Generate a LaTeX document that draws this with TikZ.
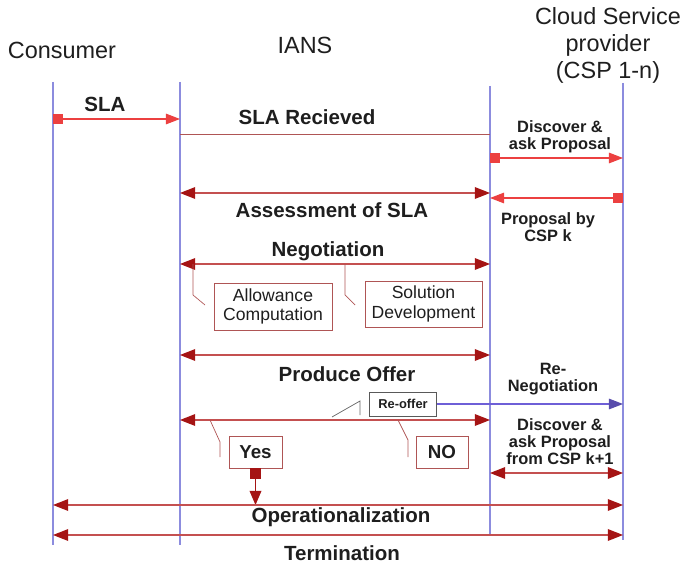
\documentclass[tikz,border=0pt]{standalone}
\usepackage{fontspec}
\setmainfont{Liberation Sans}
\usetikzlibrary{arrows.meta,positioning,calc}
\definecolor{lifeblue}{RGB}{140,140,222}
\definecolor{msgred}{RGB}{236,64,64}
\definecolor{tipred}{RGB}{165,20,20}
\definecolor{phasered}{RGB}{196,80,80}
\definecolor{boxred}{RGB}{175,85,85}
\definecolor{renegblue}{RGB}{110,95,215}
\definecolor{txt}{RGB}{30,30,30}

\begin{document}
\begin{tikzpicture}
[x=0.03cm,y=-0.03cm,
%
lifeline/.style={draw=lifeblue,line width=1pt},
head/.style={font=\fontsize{20}{23}\selectfont,align=center,inner sep=0pt,text=txt},
lbl/.style={font=\fontsize{17.5}{20}\selectfont\bfseries,inner sep=0pt,text=txt},
small/.style={font=\fontsize{14}{14.5}\selectfont\bfseries,align=center,inner sep=0pt,text=txt},
part/.style={shape=rectangle,draw=boxred,semithick,align=center,inner sep=0pt,
   font=\fontsize{15}{16.5}\selectfont,text=txt},
%
redmsg/.style={draw=msgred,line width=1pt,
   {Square[length=8.5pt,width=9pt,color=msgred]}-{Triangle[length=12pt,width=9pt,color=msgred]}},
phase/.style={draw=phasered,line width=1pt,
   {Triangle[length=13pt,width=10pt,color=tipred]}-{Triangle[length=13pt,width=10pt,color=tipred]}},
callout/.style={draw=boxred,semithick}]
%
\useasboundingbox (0,0) rectangle (681,566);
%
% actors
\node (consumer) [head] at (62,50) {Consumer};
\node (ians) [head] at (305,45) {IANS};
\node (cspname) [head] at (608,45) {Cloud Service\\provider\\(CSP 1-n)};
%%
% lifelines
\foreach \n/\x/\t/\b in {cons/53/82/545, iansL/180/82/545, iansR/490/86/535, csp/623/83/540}{
   \coordinate (\n-top) at (\x,\t);
   \coordinate (\n-bot) at (\x,\b);
   \draw[lifeline] (\n-top) -- (\n-bot);
}
%%
% message levels
\foreach \n/\y in {sla/119, rec/134, disc/158, prop/198, ass/193, neg/264,
   off/355, dec/420, kone/473, op/505, term/535}{
   \coordinate (\n-c) at (53,\y);
   \coordinate (\n-l) at (180,\y);
   \coordinate (\n-r) at (490,\y);
   \coordinate (\n-p) at (623,\y);
}
%%
% SLA from consumer
\draw[redmsg] (sla-c) -- (sla-l);
\node (sla) [lbl] at (105,104) {SLA};
\draw[draw=boxred,thin] (rec-l) -- (rec-r);
\node (received) [lbl] at (307,117) {SLA Recieved};
%%
% discovery with the providers
\draw[redmsg] (disc-r) -- (disc-p);
\node (discover) [small] at (560,137) {Discover \&\\ask Proposal};
\draw[redmsg] (prop-p) -- (prop-r);
\node (proposal) [small] at (548,227) {Proposal by\\CSP k};
%%
% phases inside IANS
\draw[phase] (ass-l) -- (ass-r);
\node (assess) [lbl] at (332,210) {Assessment of SLA};
\node (negot) [lbl] at (328,251) {Negotiation};
\draw[phase] (neg-l) -- (neg-r);
\node (allow) [part,minimum width=3.54cm,minimum height=1.41cm] at (273,306.5) {Allowance\\Computation};
\node (solution) [part,minimum width=3.51cm,minimum height=1.38cm] at (423.5,304) {Solution\\Development};
\draw[callout] (193,264) -- (193,295) -- (205,305);
\draw[callout] (345,264) -- (345,295) -- (355,305);
\draw[phase] (off-l) -- (off-r);
\node (offer) [lbl] at (347,374) {Produce Offer};
%%
% decision
\node (reoffer) [part,draw=black!65,font=\fontsize{11}{12}\selectfont\bfseries,
   minimum width=2.01cm,minimum height=0.72cm] at (403,404) {Re-offer};
\draw[draw=renegblue,line width=1pt,-{Triangle[length=12pt,width=9pt,color=renegblue!80!black]}] (reoffer.east) -- (reoffer.east -| csp-top);
\node (reneg) [small] at (553,379) {Re-\\Negotiation};
\draw[black!60,semithick] (332,417) -- (360,401) -- (360,415);
\draw[phase] (dec-l) -- (dec-r);
\node (yes) [part,font=\fontsize{16}{18}\selectfont\bfseries,minimum width=1.59cm,minimum height=0.96cm] at (255.5,452) {Yes};
\node (no) [part,font=\fontsize{16}{18}\selectfont\bfseries,minimum width=1.56cm,minimum height=0.96cm] at (442,452) {NO};
\draw[callout] (210,420) -- (220,442) -- (220,457);
\draw[callout] (398,420) -- (408,440) -- (408,457);
\coordinate (yesdown) at (yes.south |- op-c);
\draw[draw=tipred,line width=1pt,
   {Square[length=9pt,width=10pt,color=tipred]}-{Triangle[length=12pt,width=10pt,color=tipred]}] (yes.south) -- (yesdown);
\draw[phase] (kone-r) -- (kone-p);
\node (discnext) [small] at (560,442) {Discover \&\\ask Proposal\\from CSP k+1};
%%
% end of the contract
\draw[phase] (op-c) -- (op-p);
\node (oper) [lbl] at (341,517) {Operationalization};
\draw[phase] (term-c) -- (term-p);
\node (termin) [lbl] at (342,553) {Termination};
\end{tikzpicture}
\end{document}
